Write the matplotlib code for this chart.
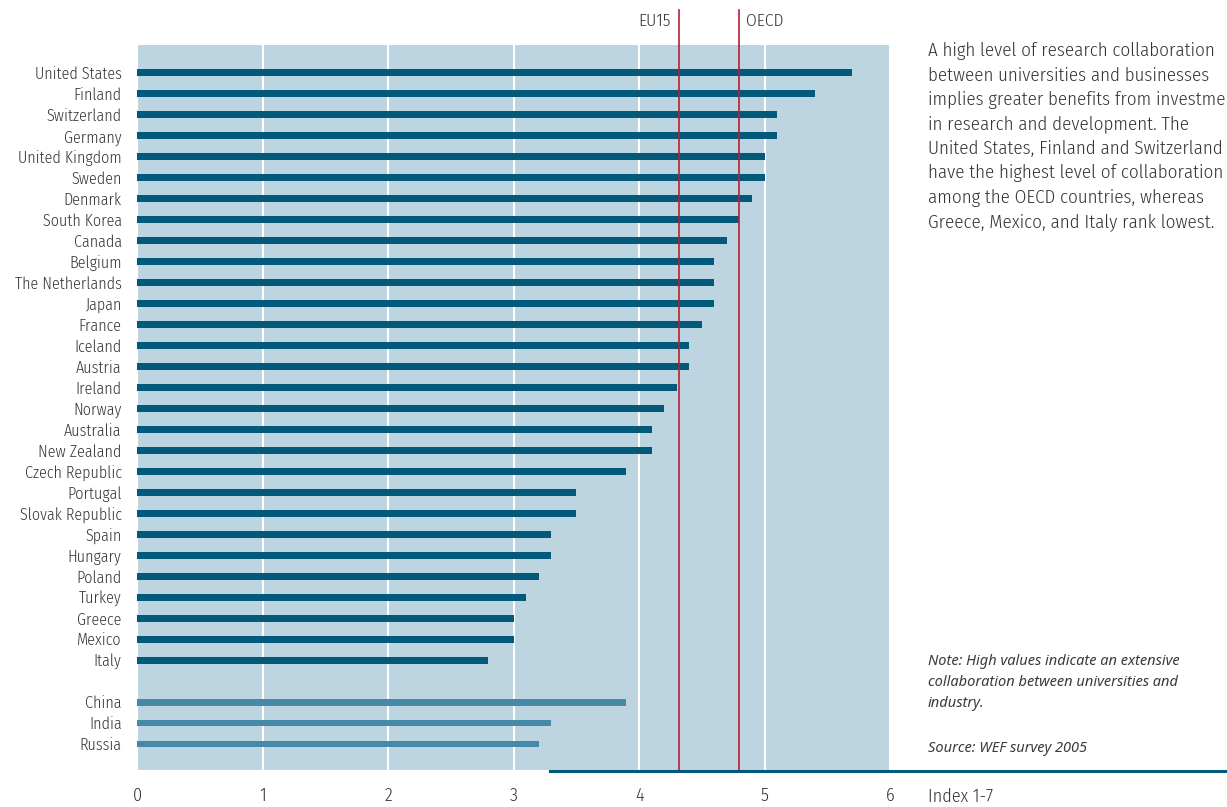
import numpy as np
import matplotlib.pyplot as plt

plt.rcParams['font.family'] = ['Fira Sans Condensed', 'DejaVu Sans']
plt.rcParams['font.weight'] = 300

oecd_countries = ['United States', 'Finland', 'Switzerland', 'Germany', 'United Kingdom',
                  'Sweden', 'Denmark', 'South Korea', 'Canada', 'Belgium', 'The Netherlands',
                  'Japan', 'France', 'Iceland', 'Austria', 'Ireland', 'Norway', 'Australia',
                  'New Zealand', 'Czech Republic', 'Portugal', 'Slovak Republic', 'Spain',
                  'Hungary', 'Poland', 'Turkey', 'Greece', 'Mexico', 'Italy']
oecd_values = [5.7, 5.4, 5.1, 5.1, 5.0, 5.0, 4.9, 4.8, 4.7, 4.6, 4.6, 4.6, 4.5, 4.4, 4.4,
               4.3, 4.2, 4.1, 4.1, 3.9, 3.5, 3.5, 3.3, 3.3, 3.2, 3.1, 3.0, 3.0, 2.8]
other_countries = ['China', 'India', 'Russia']
other_values = [3.9, 3.3, 3.2]
eu15_avg = 4.32
oecd_avg = 4.8
x_ticks = [0, 1, 2, 3, 4, 5, 6]

dark = '#02597a'
light = '#4689a6'
bg = '#bdd5e0'
red = '#b8202e'
txt = '#333333'

fig = plt.figure(figsize=(12.27, 8.07), dpi=100)
ax = fig.add_axes([137 / 1227, 1 - 770 / 807, 753 / 1227, 725 / 807])
ax.set_facecolor(bg)

y_oecd = np.arange(len(oecd_countries))
y_other = len(oecd_countries) + 1 + np.arange(len(other_countries))
ax.barh(y_oecd, oecd_values, height=0.33, color=dark, zorder=3)
ax.barh(y_other, other_values, height=0.33, color=light, zorder=3)

ax.set_xlim(0, 6)
ax.set_ylim(y_other[-1] + 1.24, -1.33)
ax.set_xticks(x_ticks)
ax.set_xticklabels([str(t) for t in x_ticks], fontsize=13, color=txt)
ax.set_yticks(list(y_oecd) + list(y_other))
ax.set_yticklabels(oecd_countries + other_countries, fontsize=11.5, color=txt)
ax.tick_params(length=0)
ax.tick_params(axis='x', pad=12)
ax.tick_params(axis='y', pad=11)
ax.grid(axis='x', color='white', linewidth=1.5, zorder=1)
for s in ax.spines.values():
    s.set_visible(False)

# average lines run up above the plot area
for v in (eu15_avg, oecd_avg):
    ax.axvline(v, ymin=0, ymax=(770 - 10) / 725, color=red, linewidth=1.2, zorder=4, clip_on=False)
ax.text(eu15_avg - 0.07, -2.45, 'EU15', ha='right', va='center', fontsize=12.5, color=txt)
ax.text(oecd_avg + 0.05, -2.45, 'OECD', ha='left', va='center', fontsize=12.5, color=txt)

# bottom rule
fig.add_artist(plt.Line2D([550 / 1227, 1.0], [1 - 771 / 807] * 2, color=dark, linewidth=2.2))

fig.text(928 / 1227, 1 - 797 / 807, 'Index 1-7', fontsize=13, color=txt, va='center')

body = ('A high level of research collaboration\n'
        'between universities and businesses\n'
        'implies greater benefits from investment\n'
        'in research and development. The\n'
        'United States, Finland and Switzerland\n'
        'have the highest level of collaboration\n'
        'among the OECD countries, whereas\n'
        'Greece, Mexico, and Italy rank lowest.')
fig.text(928 / 1227, 1 - 42 / 807, body, fontsize=13.6, color=txt, va='top', linespacing=1.46)

note = ('Note: High values indicate an extensive\n'
        'collaboration between universities and\n'
        'industry.')
fig.text(928 / 1227, 1 - 654 / 807, note, fontsize=10.5, color='#3a3a3a', style='italic', va='top',
         linespacing=1.55, family=['Noto Sans', 'DejaVu Sans'], weight='light')
fig.text(928 / 1227, 1 - 748 / 807, 'Source: WEF survey 2005', fontsize=10.5, color='#3a3a3a',
         style='italic', va='center', family=['Noto Sans', 'DejaVu Sans'], weight='light')

fig.savefig('out.png', dpi=100)
